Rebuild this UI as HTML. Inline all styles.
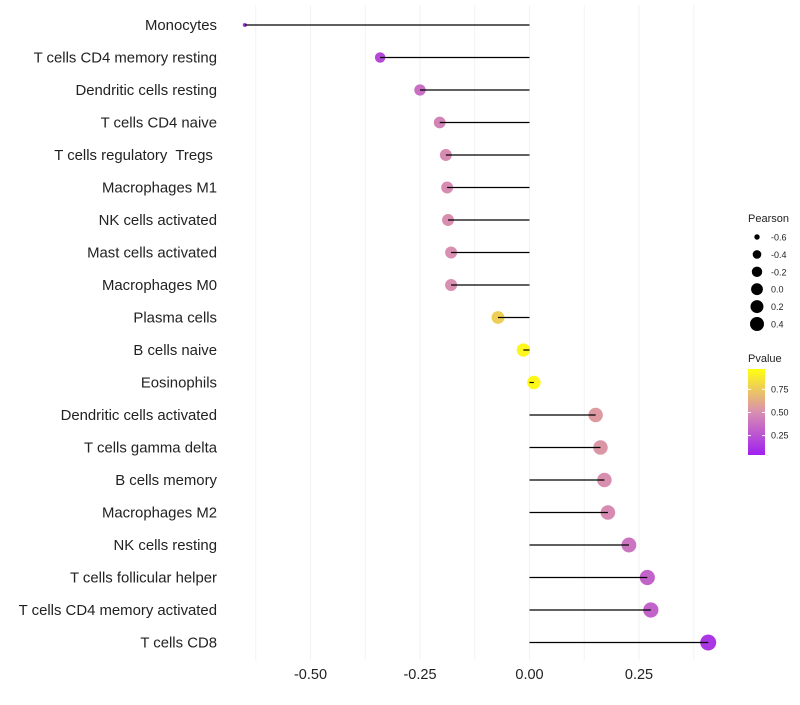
<!DOCTYPE html>
<html><head><meta charset="utf-8"><style>
body{margin:0;background:#fff;font-family:"Liberation Sans",sans-serif}
text{white-space:pre}
</style></head><body>
<svg id="chart" width="800" height="700" xmlns="http://www.w3.org/2000/svg" style="white-space:pre">
<defs><linearGradient id="pg" x1="0" y1="1" x2="0" y2="0">
<stop offset="0" stop-color="#a020f0"/><stop offset="0.5" stop-color="#d98fb0"/><stop offset="1" stop-color="#ffff10"/></linearGradient></defs>
<g id="grid"></g><g id="marks"></g><g id="labels"></g><g id="legend"></g>
</svg>
<script>
const categories=["Monocytes","T cells CD4 memory resting","Dendritic cells resting","T cells CD4 naive","T cells regulatory  Tregs ","Macrophages M1","NK cells activated","Mast cells activated","Macrophages M0","Plasma cells","B cells naive","Eosinophils","Dendritic cells activated","T cells gamma delta","B cells memory","Macrophages M2","NK cells resting","T cells follicular helper","T cells CD4 memory activated","T cells CD8"];
const pearson=[-0.65,-0.341,-0.25,-0.205,-0.191,-0.188,-0.186,-0.179,-0.179,-0.072,-0.014,0.01,0.151,0.162,0.171,0.179,0.227,0.269,0.277,0.408];
const pvalue=[0.08,0.18,0.35,0.45,0.48,0.48,0.49,0.5,0.5,0.78,0.96,0.97,0.55,0.53,0.5,0.48,0.38,0.3,0.3,0.1];
const xTicks=[-0.5,-0.25,0,0.25];
const xTickLabels=["-0.50","-0.25","0.00","0.25"];
const legendVals=[-0.6,-0.4,-0.2,0.0,0.2,0.4];
const legendLabels=["-0.6","-0.4","-0.2","0.0","0.2","0.4"];
const pTicks=[0.25,0.5,0.75];
const pTickLabels=["0.25","0.50","0.75"];

const NS="http://www.w3.org/2000/svg";
const x=v=>529.5+v*438;
const y=i=>25+i*32.5;
const r=v=>2+6*Math.sqrt(Math.max(0,v+0.65)/1.06);
const rl=v=>2+5*Math.sqrt(Math.max(0,v+0.62)/1.02);
function lerp(a,b,t){return a.map((c,i)=>Math.round(c+(b[i]-c)*t));}
function col(p){const s=[[160,32,240],[217,143,176],[255,255,16]];
 const c=p<0.5?lerp(s[0],s[1],p/0.5):lerp(s[1],s[2],(p-0.5)/0.5);return `rgb(${c.join(',')})`;}
function mk(t,a,parent){const e=document.createElementNS(NS,t);for(const k in a)e.setAttribute(k,a[k]);document.getElementById(parent).appendChild(e);return e;}

for(let v=-0.625;v<=0.38;v+=0.125){
 const g=mk('line',{x1:x(v),x2:x(v),y1:5,y2:660,stroke:'#f2f2f2','stroke-width':1},'grid');
 
 
}
xTicks.forEach((v,i)=>{
 const t=mk('text',{x:x(v),y:679,'text-anchor':'middle','font-size':14.5,fill:'#222'},'labels');
 t.textContent=xTickLabels[i];
 
 
});
categories.forEach((c,i)=>{
 const t=mk('text',{x:217,y:y(i)+5,'text-anchor':'end','font-size':14.9,fill:'#222'},'labels');
 t.textContent=c;
 
 
 const pt=mk('circle',{cx:x(pearson[i]),cy:y(i),r:r(pearson[i]),fill:col(pvalue[i])},'marks');
 
 
 const ln=mk('line',{x1:x(0),x2:x(pearson[i]),y1:y(i),y2:y(i),stroke:'#000','stroke-width':1.2},'marks');
 
 
});
const pt=mk('text',{x:748,y:222,'font-size':11,fill:'#222'},'legend');pt.textContent='Pearson';


legendVals.forEach((v,i)=>{
 const c=mk('circle',{cx:757,cy:237+i*17.4,r:rl(v),fill:'#000'},'legend');
 
 
 const t=mk('text',{x:771,y:240.5+i*17.4,'font-size':9,fill:'#222'},'legend');t.textContent=legendLabels[i];
 
 
});
const pv=mk('text',{x:748,y:362,'font-size':11,fill:'#222'},'legend');pv.textContent='Pvalue';


const bar=mk('rect',{x:748,y:369,width:17,height:86,fill:'url(#pg)'},'legend');


const py=p=>455-(p-0.04)/0.93*86;
pTicks.forEach((p,i)=>{
 const t=mk('text',{x:771,y:py(p)+3,'font-size':9,fill:'#222'},'legend');t.textContent=pTickLabels[i];
 
 
 mk('line',{x1:748,x2:751,y1:py(p),y2:py(p),stroke:'#fff'},'legend');
 mk('line',{x1:762,x2:765,y1:py(p),y2:py(p),stroke:'#fff'},'legend');
});
</script>
</body></html>
